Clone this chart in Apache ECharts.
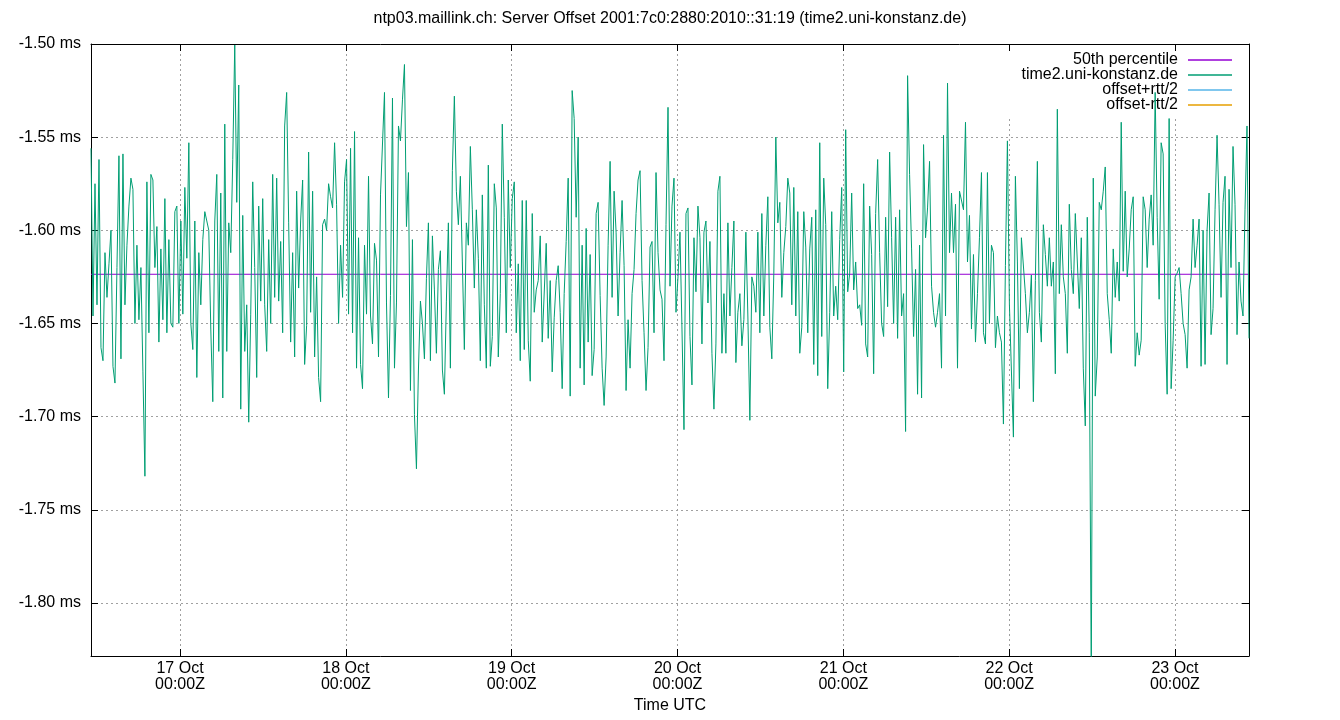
<!DOCTYPE html>
<html>
<head>
<meta charset="utf-8">
<title>ntp03.maillink.ch: Server Offset</title>
<script src="https://cdn.jsdelivr.net/npm/echarts@6/dist/echarts.min.js"></script>
<style>
html, body { margin: 0; padding: 0; background: #fff; }
#chart { width: 1340px; height: 720px; }
</style>
</head>
<body>
<div id="chart"></div>
<script>
// poll window (UTC) and the median offset, in microseconds
const pollStart = Date.UTC(2023, 9, 16, 11, 7);
const pollEnd = Date.UTC(2023, 9, 23, 10, 43);
const medianUs = -1623.6;

// offsets, in microseconds, oldest first
const offsets16 = [
  -1556,-1646,-1575,-1640,-1562,-1663,-1670,-1612,-1636,-1618,
  -1600,-1673,-1682,-1620,-1560,-1669,-1559,-1640,-1608,-1587,
  -1572,-1578,-1650,-1608,-1648,-1620,-1676,-1732,-1574,-1655,
  -1570,-1573,-1620,-1598,-1660,-1610,-1648,-1583,-1655,-1605,
  -1650,-1652,-1590,-1587,-1650,-1595,-1645,-1577,-1615,-1553,
  -1650,-1664,-1595,-1679,-1612,-1640,-1605,-1590,-1595,-1600,
  -1653,-1692,-1595,-1570,-1665,-1580,-1690,-1543,-1665,-1596,
  -1612,-1562,-1500,-1585,-1522,-1696,-1592,-1665,-1640,-1703,
  -1645,-1574,-1620,-1679,-1587,-1638,-1583,-1640,-1665,-1605,
  -1650,-1570,-1636,-1572,-1638,-1606,-1655,-1544,-1526
];
const offsets17 = [
  -1596,-1660,-1612,-1668,-1579,-1631,-1595,-1573,-1672,-1651,
  -1558,-1644,-1579,-1668,-1625,-1679,-1692,-1597,-1594,-1600,
  -1575,-1582,-1588,-1553,-1586,-1650,-1608,-1636,-1574,-1562,
  -1645,-1556,-1655,-1547,-1674,-1604,-1672,-1685,-1608,-1645,
  -1571,-1646,-1661,-1607,-1616,-1668,-1581,-1580,-1526,-1639,
  -1690,-1635,-1529,-1674,-1639,-1544,-1552,-1530,-1511,-1598,
  -1569,-1686,-1605,-1699,-1728,-1675,-1638,-1650,-1669,-1626,
  -1596,-1670,-1603,-1632,-1666,-1621,-1611,-1675,-1688,-1638,
  -1596,-1674,-1568,-1528,-1579,-1597,-1571,-1617,-1664,-1596,
  -1608,-1555,-1589,-1631,-1589,-1615,-1670,-1581,-1640
];
const offsets19 = [
  -1674,-1565,-1673,-1657,-1575,-1588,-1668,-1634,-1543,-1593,
  -1655,-1573,-1620,-1583,-1574,-1655,-1618,-1670,-1584,-1664,
  -1584,-1659,-1681,-1591,-1644,-1632,-1627,-1603,-1660,-1659,
  -1607,-1658,-1627,-1676,-1647,-1627,-1619,-1644,-1685,-1634,
  -1606,-1572,-1689,-1525,-1540,-1593,-1550,-1674,-1608,-1683,
  -1599,-1660,-1613,-1678,-1664,-1591,-1585,-1635,-1674,-1694,
  -1668,-1608,-1563,-1636,-1579,-1601,-1646,-1612,-1584,-1619,
  -1686,-1648,-1674,-1634,-1621,-1591,-1573,-1568,-1627,-1655,
  -1686,-1663,-1609,-1606,-1655,-1569,-1612,-1632,-1637,-1670,
  -1597,-1534,-1630,-1587,-1572,-1644,-1625,-1601,-1653
];
const offsets20 = [
  -1707,-1591,-1588,-1657,-1683,-1604,-1633,-1587,-1604,-1661,
  -1601,-1595,-1639,-1606,-1666,-1696,-1661,-1579,-1571,-1666,
  -1634,-1666,-1596,-1646,-1620,-1595,-1671,-1644,-1634,-1662,
  -1648,-1601,-1646,-1702,-1625,-1630,-1644,-1601,-1655,-1591,
  -1646,-1608,-1582,-1652,-1669,-1623,-1550,-1596,-1585,-1636,
  -1612,-1598,-1572,-1580,-1640,-1577,-1646,-1590,-1666,-1652,
  -1590,-1609,-1655,-1610,-1593,-1672,-1589,-1678,-1553,-1657,
  -1572,-1597,-1685,-1644,-1590,-1646,-1630,-1648,-1605,-1577,
  -1676,-1546,-1633,-1623,-1580,-1632,-1617,-1642,-1640,-1651,
  -1575,-1661,-1668,-1587,-1613,-1677,-1591,-1562
];
const offsets21 = [
  -1612,-1650,-1657,-1593,-1641,-1558,-1604,-1650,-1593,-1658,
  -1589,-1646,-1634,-1708,-1517,-1570,-1610,-1657,-1621,-1688,
  -1608,-1690,-1554,-1604,-1588,-1563,-1630,-1644,-1652,-1644,
  -1634,-1674,-1549,-1646,-1521,-1612,-1580,-1612,-1586,-1674,
  -1579,-1579,-1589,-1542,-1617,-1592,-1653,-1613,-1660,-1634,
  -1604,-1569,-1655,-1661,-1569,-1650,-1608,-1612,-1663,-1646,
  -1655,-1660,-1704,-1619,-1552,-1640,-1640,-1711,-1571,-1617,
  -1685,-1604,-1604,-1634,-1655,-1644,-1624,-1692,-1627,-1563,
  -1644,-1660,-1597,-1613,-1630,-1604,-1630,-1617,-1677,-1535,
  -1634,-1597,-1625,-1634,-1666,-1586,-1621,-1634,-1591
];
const offsets22 = [
  -1591,-1642,-1604,-1674,-1705,-1593,-1655,-1840,-1572,-1689,
  -1668,-1585,-1589,-1579,-1566,-1634,-1648,-1666,-1610,-1636,
  -1617,-1638,-1542,-1622,-1579,-1625,-1610,-1589,-1582,-1673,
  -1655,-1667,-1659,-1582,-1589,-1620,-1594,-1581,-1608,-1526,
  -1593,-1637,-1553,-1559,-1650,-1688,-1540,-1685,-1659,-1625,
  -1623,-1620,-1634,-1650,-1656,-1674,-1632,-1625,-1594,-1620,
  -1608,-1594,-1673,-1600,-1672,-1600,-1580,-1656,-1642,-1589,
  -1549,-1586,-1636,-1585,-1571,-1672,-1578,-1620,-1555,-1586,
  -1656,-1617,-1638,-1646,-1589,-1544,-1658
];

const offsets = [].concat(offsets16, offsets17, offsets19, offsets20, offsets21, offsets22);

// y runs over |offset| in ms on an inverted axis so the ticks start at 1.50
const toPlot = us => -us / 1000;
const DAY = 24 * 3600 * 1000;
const MONTHS = ['Jan','Feb','Mar','Apr','May','Jun','Jul','Aug','Sep','Oct','Nov','Dec'];
const FONT = '"Liberation Sans", Arial, sans-serif';
const FS = 16;
const pad = n => (n < 10 ? '0' : '') + n;

const times = offsets.map((_, i) => pollStart + i * (pollEnd - pollStart) / (offsets.length - 1));
const offsetData = offsets.map((v, i) => [times[i], toPlot(v)]);
const medianData = [[pollStart, toPlot(medianUs)], [pollEnd, toPlot(medianUs)]];

const gridLine = { show: true, lineStyle: { color: '#a0a0a0', width: 1, type: [2, 3] } };
const blackLine = { show: true, lineStyle: { color: '#000', width: 1 } };

const xBase = {
  type: 'time',
  min: pollStart,
  max: pollEnd,
  minInterval: DAY,
  maxInterval: DAY,
  axisLine: blackLine,
  axisTick: { show: true, inside: true, length: 7, lineStyle: { color: '#000' } }
};

const yBase = {
  type: 'value',
  inverse: true,
  min: 1.5,
  max: toPlot(-1828.5),
  interval: 0.05,
  axisLine: blackLine,
  axisTick: { show: true, inside: true, length: 7, lineStyle: { color: '#000' } }
};

const chart = echarts.init(document.getElementById('chart'));

chart.setOption({
  useUTC: true,
  animation: false,
  backgroundColor: '#fff',
  title: {
    text: 'ntp03.maillink.ch: Server Offset 2001:7c0:2880:2010::31:19 (time2.uni-konstanz.de)',
    left: 'center',
    top: 11,
    padding: 0,
    textStyle: { fontFamily: FONT, fontSize: FS, fontWeight: 'normal', color: '#000' }
  },
  legend: {
    orient: 'vertical',
    align: 'right',
    right: 95,
    top: 45,
    padding: [7, 13, 3, 17],
    backgroundColor: '#fff',
    z: 1,
    icon: 'rect',
    itemWidth: 44,
    itemHeight: 1.5,
    itemGap: -1,
    selectedMode: false,
    textStyle: { fontFamily: FONT, fontSize: FS, color: '#000', lineHeight: 15, padding: [0, 5, 0, 0] },
    data: ['50th percentile', 'time2.uni-konstanz.de', 'offset+rtt/2', 'offset-rtt/2']
  },
  grid: { left: 91, right: 91, top: 44, bottom: 64 },
  xAxis: [
    Object.assign({}, xBase, {
      position: 'bottom',
      name: 'Time UTC',
      nameLocation: 'middle',
      nameGap: 42,
      nameTextStyle: { fontFamily: FONT, fontSize: FS, color: '#000' },
      splitLine: gridLine,
      axisLabel: {
        fontFamily: FONT, fontSize: FS, color: '#000', lineHeight: 16, margin: 5,
        formatter: v => {
          const d = new Date(v);
          return d.getUTCDate() + ' ' + MONTHS[d.getUTCMonth()] + '\n' +
            pad(d.getUTCHours()) + ':' + pad(d.getUTCMinutes()) + 'Z';
        }
      }
    }),
    Object.assign({}, xBase, {
      position: 'top',
      z: 5,
      splitLine: { show: false },
      axisLabel: { show: false }
    })
  ],
  yAxis: [
    Object.assign({}, yBase, {
      position: 'left',
      splitLine: gridLine,
      axisLabel: {
        fontFamily: FONT, fontSize: FS, color: '#000', margin: 10,
        formatter: v => {
          const k = Math.round(v / 0.05);
          if (Math.abs(v - k * 0.05) > 1e-6) return '';
          return '-' + (k * 0.05).toFixed(2) + ' ms';
        }
      }
    }),
    Object.assign({}, yBase, {
      position: 'right',
      splitLine: { show: false },
      axisLabel: { show: false }
    })
  ],
  series: [
    {
      name: '50th percentile',
      type: 'line',
      data: medianData,
      symbol: 'none',
      silent: true,
      z: 2,
      color: '#9400d3',
      lineStyle: { color: '#9400d3', width: 1 }
    },
    {
      name: 'time2.uni-konstanz.de',
      type: 'line',
      data: offsetData,
      symbol: 'none',
      silent: true,
      z: 3,
      color: '#009e73',
      lineStyle: { color: '#009e73', width: 1 }
    },
    {
      name: 'offset+rtt/2',
      type: 'line',
      data: [],
      symbol: 'none',
      color: '#56b4e9',
      lineStyle: { color: '#56b4e9', width: 1 }
    },
    {
      name: 'offset-rtt/2',
      type: 'line',
      data: [],
      symbol: 'none',
      color: '#e69f00',
      lineStyle: { color: '#e69f00', width: 1 }
    }
  ]
});

window.addEventListener('resize', () => chart.resize());
</script>
</body>
</html>
